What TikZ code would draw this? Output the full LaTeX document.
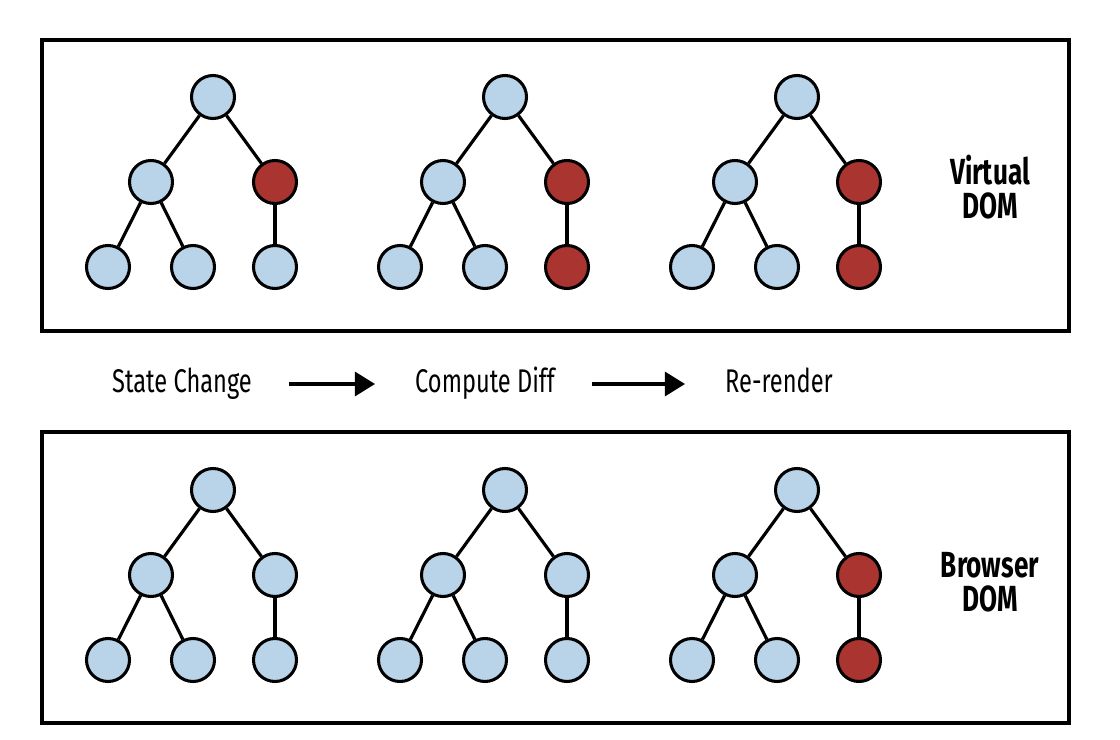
\documentclass[tikz,border=0pt]{standalone}
\usepackage{fontspec}
\setmainfont[FakeStretch=0.72]{Fira Sans}
\usetikzlibrary{arrows.meta}

\definecolor{nodeblue}{RGB}{185,212,233}
\definecolor{nodered}{RGB}{170,52,48}

\tikzset{
	vnode/.style={circle,draw=black,line width=2.6pt,fill=nodeblue,minimum size=1.29cm,inner sep=0pt},
	chnode/.style={vnode,fill=nodered},
	edge/.style={line width=2.7pt,black},
	panel/.style={line width=3pt,black},
	steptext/.style={inner sep=0pt,text height=0.72cm,text depth=0.24cm,font=\fontsize{28}{30}\selectfont},
	domlabel/.style={inner sep=0pt,align=center,font=\bfseries\fontsize{31}{29}\selectfont},
	flow/.style={line width=2.6pt,-{Triangle[length=0.6cm,width=0.72cm]},shorten <=1.1cm,shorten >=1.2cm}
}

% #1 name, #2 x, #3 y, #4 style of right child, #5 style of right leaf
\newcommand{\domtree}[5]{%
	\node[vnode] (#1-root) at (#2,#3) {};
	\node[vnode] (#1-l) at ({#2-62},{#3+85}) {};
	\node[#4] (#1-r) at ({#2+62},{#3+85}) {};
	\node[vnode] (#1-ll) at ({#2-105},{#3+170}) {};
	\node[vnode] (#1-lr) at ({#2-20},{#3+170}) {};
	\node[#5] (#1-rr) at ({#2+62},{#3+170}) {};
	\draw[edge] (#1-root) -- (#1-l);
	\draw[edge] (#1-root) -- (#1-r);
	\draw[edge] (#1-l) -- (#1-ll);
	\draw[edge] (#1-l) -- (#1-lr);
	\draw[edge] (#1-r) -- (#1-rr);
}

\begin{document}
\begin{tikzpicture}[x=0.03cm,y=-0.03cm]
	\useasboundingbox (0,0) rectangle (1120,740);

	% virtual DOM
	\draw[panel] (42,40) rectangle (1069,331);
	\domtree{v1}{213}{97}{chnode}{vnode}
	\domtree{v2}{505}{97}{chnode}{chnode}
	\domtree{v3}{797}{97}{chnode}{chnode}
	\node[domlabel] (vdom) at (990,187) {Virtual\\DOM};

	% steps
	\node[steptext] (state) at (182,384) {State Change};
	\node[steptext] (diff) at (485,384) {Compute Diff};
	\node[steptext] (render) at (779,384) {Re-render};
	\draw[flow] (state.east) -- (diff.west);
	\draw[flow] (diff.east) -- (render.west);

	% browser DOM
	\draw[panel] (42,432) rectangle (1069,723);
	\domtree{b1}{213}{490}{vnode}{vnode}
	\domtree{b2}{505}{490}{vnode}{vnode}
	\domtree{b3}{797}{490}{chnode}{chnode}
	\node[domlabel] (bdom) at (990,582) {Browser\\DOM};
\end{tikzpicture}
\end{document}
